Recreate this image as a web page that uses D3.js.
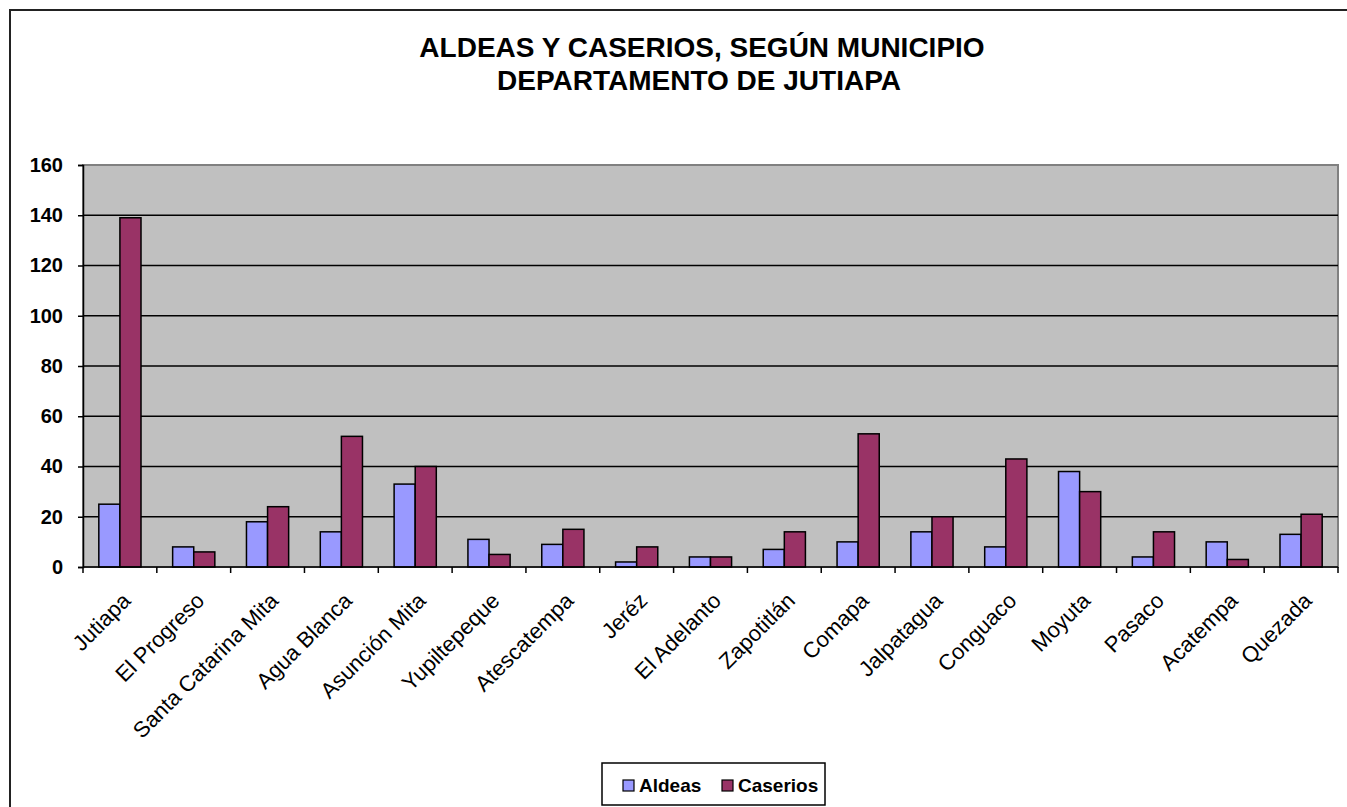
<!DOCTYPE html>
<html>
<head>
<meta charset="utf-8">
<script src="https://cdn.jsdelivr.net/npm/d3@7"></script>
<style>
  body { margin: 0; background: #fff; }
  svg { display: block; font-family: "Liberation Sans", Arial, sans-serif; }
</style>
</head>
<body>
<div id="chart"></div>
<script>
// data
var municipios = ["Jutiapa", "El Progreso", "Santa Catarina Mita", "Agua Blanca", "Asunción Mita",
  "Yupiltepeque", "Atescatempa", "Jeréz", "El Adelanto", "Zapotitlán", "Comapa", "Jalpatagua",
  "Conguaco", "Moyuta", "Pasaco", "Acatempa", "Quezada"];
var aldeas   = [25, 8, 18, 14, 33, 11, 9, 2, 4, 7, 10, 14, 8, 38, 4, 10, 13];
var caserios = [139, 6, 24, 52, 40, 5, 15, 8, 4, 14, 53, 20, 43, 30, 14, 3, 21];
var series = ["Aldeas", "Caserios"];
var colors = ["#9999ff", "#993366"];
var yTicks = [0, 20, 40, 60, 80, 100, 120, 140, 160];

var W = 1347, H = 807;
var plot = {left: 83, right: 1338, top: 165, bottom: 567};

var svg = d3.select("#chart").append("svg")
  .attr("width", W)
  .attr("height", H);

// outer chart frame (runs off the right and bottom edge)
svg.append("rect")
  .attr("x", 10).attr("y", 10)
  .attr("width", 1360).attr("height", 820)
  .attr("fill", "#fff")
  .attr("stroke", "#222")
  .attr("stroke-width", 2);

// title
var title = svg.append("text")
  .attr("text-anchor", "middle")
  .style("font-weight", "bold")
  .style("font-size", "28px");
title.append("tspan").attr("x", 702).attr("y", 57).text("ALDEAS Y CASERIOS,  SEGÚN MUNICIPIO");
title.append("tspan").attr("x", 699).attr("y", 90).text("DEPARTAMENTO DE JUTIAPA");

// scales
var x0 = d3.scaleBand()
  .domain(municipios)
  .range([plot.left, plot.right])
  .padding(0);

var barW = x0.bandwidth() / 3.5;
var x1 = d3.scaleBand()
  .domain(series)
  .range([0, barW * 2]);

var y = d3.scaleLinear()
  .domain([0, 160])
  .range([plot.bottom, plot.top]);

// plot area
svg.append("rect")
  .attr("x", plot.left).attr("y", plot.top)
  .attr("width", plot.right - plot.left)
  .attr("height", plot.bottom - plot.top)
  .attr("fill", "#c0c0c0")
  .attr("stroke", "#808080")
  .attr("stroke-width", 2);

// gridlines
svg.append("g")
  .selectAll("line")
  .data(yTicks.filter(function(d) { return d > 0 && d < 160; }))
  .enter().append("line")
  .attr("x1", plot.left).attr("x2", plot.right)
  .attr("y1", function(d) { return y(d); })
  .attr("y2", function(d) { return y(d); })
  .attr("stroke", "#000")
  .attr("stroke-width", 1.5);

// bars
var rows = municipios.map(function(m, i) {
  return {name: m, values: [aldeas[i], caserios[i]]};
});

var groups = svg.append("g")
  .selectAll("g")
  .data(rows)
  .enter().append("g")
  .attr("transform", function(d) {
    return "translate(" + (x0(d.name) + (x0.bandwidth() - barW * 2) / 2) + ",0)";
  });

groups.selectAll("rect")
  .data(function(d) { return d.values.map(function(v, j) { return {key: series[j], value: v, j: j}; }); })
  .enter().append("rect")
  .attr("x", function(d) { return x1(d.key); })
  .attr("width", x1.bandwidth())
  .attr("y", function(d) { return y(d.value); })
  .attr("height", function(d) { return y(0) - y(d.value); })
  .attr("fill", function(d) { return colors[d.j]; })
  .attr("stroke", "#000")
  .attr("stroke-width", 1.5);

// y axis
var yAxis = svg.append("g")
  .attr("transform", "translate(" + plot.left + ",0)")
  .call(d3.axisLeft(y).tickValues(yTicks).tickSize(5).tickPadding(15));
yAxis.select(".domain").attr("stroke", "#000").attr("stroke-width", 1.5);
yAxis.selectAll(".tick line").attr("stroke", "#000").attr("stroke-width", 1.5);
yAxis.selectAll("text")
  .attr("fill", "#000")
  .style("font-size", "20px")
  .style("font-weight", "bold")
  .style("font-family", "'Liberation Sans', Arial, sans-serif");

// x axis: ticks at category boundaries
var bounds = municipios.map(function(m) { return x0(m); }).concat([plot.right]);
svg.append("line")
  .attr("x1", plot.left).attr("x2", plot.right)
  .attr("y1", plot.bottom).attr("y2", plot.bottom)
  .attr("stroke", "#000").attr("stroke-width", 1.5);
svg.append("g")
  .selectAll("line")
  .data(bounds)
  .enter().append("line")
  .attr("x1", function(d) { return d; })
  .attr("x2", function(d) { return d; })
  .attr("y1", plot.bottom).attr("y2", plot.bottom + 6)
  .attr("stroke", "#000").attr("stroke-width", 1.5);

svg.append("g")
  .selectAll("text")
  .data(municipios)
  .enter().append("text")
  .attr("transform", function(d) {
    return "translate(" + (x0(d) + x0.bandwidth() / 2 + 12) + "," + 602 + ") rotate(-45)";
  })
  .attr("text-anchor", "end")
  .style("font-size", "22px")
  .text(function(d) { return d; });

// legend
var legend = svg.append("g");
legend.append("rect")
  .attr("x", 602).attr("y", 763)
  .attr("width", 223).attr("height", 42)
  .attr("fill", "#fff")
  .attr("stroke", "#000")
  .attr("stroke-width", 1.5);

var legX = [623, 722];
var items = legend.selectAll("g.item")
  .data(series)
  .enter().append("g")
  .attr("class", "item")
  .attr("transform", function(d, i) { return "translate(" + legX[i] + ",780)"; });
items.append("rect")
  .attr("width", 11).attr("height", 11)
  .attr("fill", function(d, i) { return colors[i]; })
  .attr("stroke", "#000")
  .attr("stroke-width", 1.2);
items.append("text")
  .attr("x", 16).attr("y", 12)
  .style("font-size", "19px")
  .style("font-weight", "bold")
  .text(function(d) { return d; });
</script>
</body>
</html>
